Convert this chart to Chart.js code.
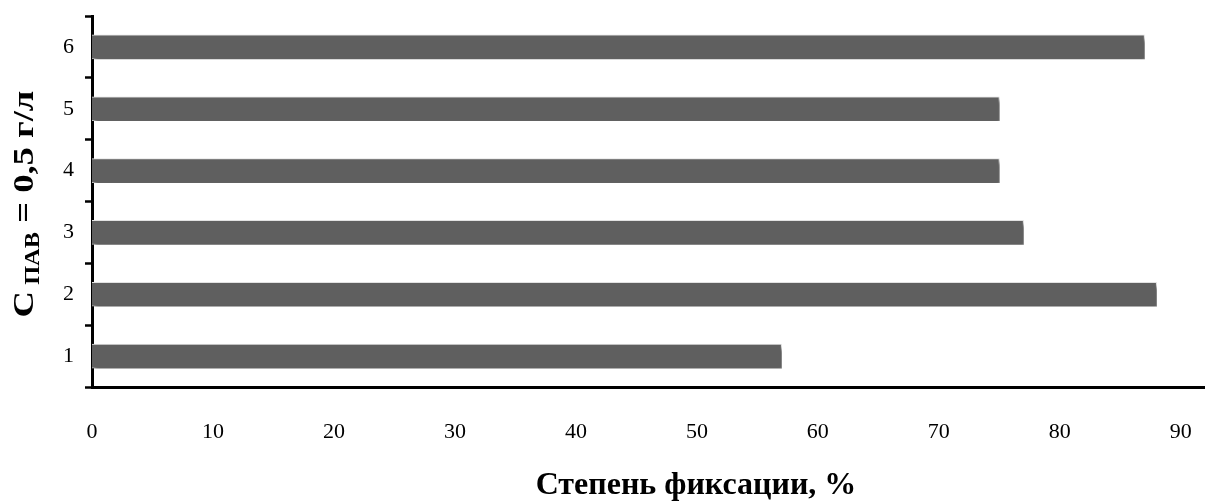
<!DOCTYPE html>
<html>
<head>
<meta charset="utf-8">
<script src="https://cdn.jsdelivr.net/npm/chart.js@4/dist/chart.umd.min.js"></script>
<style>
  html, body { margin: 0; padding: 0; background: #fff; }
  #wrap { width: 1205px; height: 504px; }
</style>
</head>
<body>
<div id="wrap"><canvas id="chart" width="1205" height="504"></canvas></div>
<script>
const categories = ['1', '2', '3', '4', '5', '6'];
const fixation = [57, 88, 77, 75, 75, 87];
const xTicks = [0, 10, 20, 30, 40, 50, 60, 70, 80, 90];

const xTitle = 'Степень фиксации, %';
const yTitle = ['С', ' ПАВ', ' = 0,5 г/л'];

const serif = '"Liberation Serif", "DejaVu Serif", serif';

// bar shadow
const shadowPlugin = {
  id: 'barShadow',
  beforeDatasetDraw(chart) {
    const ctx = chart.ctx;
    ctx.save();
    ctx.shadowColor = 'rgba(0,0,0,0.6)';
    ctx.shadowBlur = 4;
    ctx.shadowOffsetX = 2;
    ctx.shadowOffsetY = 4;
  },
  afterDatasetDraw(chart) {
    chart.ctx.restore();
  }
};

// axis titles (y title has a subscript)
const titlesPlugin = {
  id: 'titles',
  afterDraw(chart) {
    const ctx = chart.ctx;
    ctx.save();
    ctx.fillStyle = '#000';
    ctx.textBaseline = 'alphabetic';
    ctx.font = 'bold 32px ' + serif;
    ctx.textAlign = 'center';
    ctx.fillText(xTitle, 696, 494);

    ctx.translate(33, 204);
    ctx.rotate(-Math.PI / 2);
    ctx.scale(1.22, 1);
    const big = 'bold 30px ' + serif;
    const small = 'bold 20px ' + serif;
    ctx.font = big;
    const w1 = ctx.measureText(yTitle[0]).width;
    const w3 = ctx.measureText(yTitle[2]).width;
    ctx.font = small;
    const w2 = ctx.measureText(yTitle[1]).width;
    let x = -(w1 + w2 + w3) / 2;
    ctx.textAlign = 'left';
    ctx.font = big;
    ctx.fillText(yTitle[0], x, 0);
    x += w1;
    ctx.font = small;
    ctx.fillText(yTitle[1], x, 6);
    x += w2;
    ctx.font = big;
    ctx.fillText(yTitle[2], x, 0);
    ctx.restore();
  }
};

function noPad(scale) {
  scale.paddingLeft = 0;
  scale.paddingRight = 0;
  scale.paddingTop = 0;
  scale.paddingBottom = 0;
}

new Chart(document.getElementById('chart'), {
  type: 'bar',
  data: {
    labels: categories,
    datasets: [{
      data: fixation,
      backgroundColor: '#5f5f5f',
      borderColor: '#e4e4e4',
      borderWidth: 1,
      barThickness: 24
    }]
  },
  options: {
    indexAxis: 'y',
    responsive: false,
    animation: false,
    layout: { padding: { top: 16, right: 0, left: 0, bottom: 0 } },
    plugins: {
      legend: { display: false },
      tooltip: { enabled: false }
    },
    scales: {
      x: {
        min: 0,
        max: 92,
        afterBuildTicks(scale) {
          scale.ticks = xTicks.map(v => ({ value: v }));
        },
        afterFit(scale) { scale.height = 117; noPad(scale); },
        ticks: {
          includeBounds: false,
          stepSize: 10,
          padding: 32,
          maxRotation: 0,
          color: '#000',
          font: { family: serif, size: 22 }
        },
        grid: { display: false, drawTicks: false },
        border: { display: true, color: '#000', width: 3 }
      },
      y: {
        reverse: true,
        afterFit(scale) { scale.width = 92; noPad(scale); },
        ticks: {
          padding: 11,
          color: '#000',
          font: { family: serif, size: 22 }
        },
        grid: {
          drawOnChartArea: false,
          drawTicks: true,
          tickLength: 7,
          tickWidth: 2.5,
          tickColor: '#000'
        },
        border: { display: true, color: '#000', width: 3 }
      }
    }
  },
  plugins: [shadowPlugin, titlesPlugin]
});
</script>
</body>
</html>
